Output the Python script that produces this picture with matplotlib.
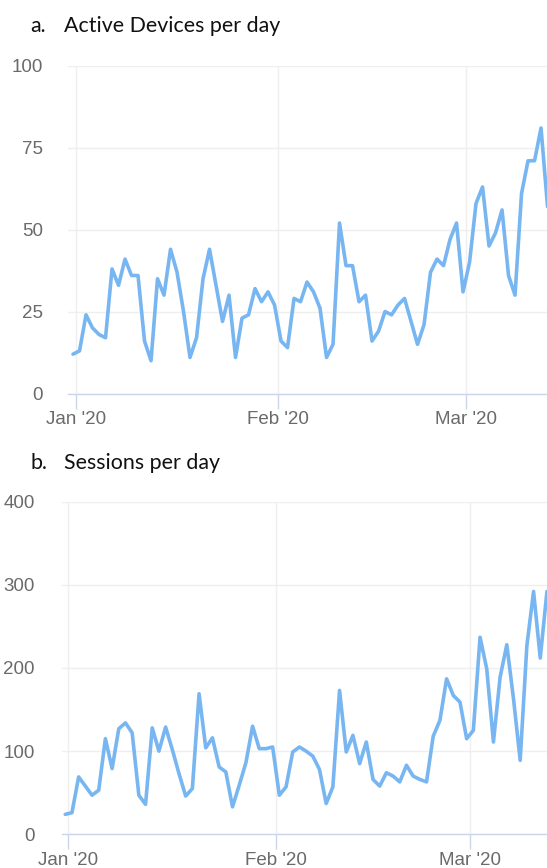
import matplotlib
matplotlib.use("Agg")
import matplotlib.pyplot as plt
import matplotlib.dates as mdates
import pandas as pd

# ---- data ----
start_date = "2020-01-01"
active_devices = [12, 13, 24, 20, 18, 17, 38, 33, 41, 36, 36, 16, 10, 35, 30, 44, 37, 25, 11, 17,
                  35, 44, 33, 22, 30, 11, 23, 24, 32, 28, 31, 27, 16, 14, 29, 28, 34, 31, 26, 11,
                  15, 52, 39, 39, 28, 30, 16, 19, 25, 24, 27, 29, 22, 15, 21, 37, 41, 39, 47, 52,
                  31, 40, 58, 63, 45, 49, 56, 36, 30, 61, 71, 71, 81, 57]
sessions = [24, 26, 69, 58, 47, 53, 115, 79, 127, 134, 122, 47, 36, 128, 100, 129, 102, 73, 46, 55,
            169, 104, 116, 81, 75, 33, 59, 86, 130, 103, 103, 105, 47, 57, 99, 105, 100, 94, 78, 37,
            57, 173, 99, 119, 85, 111, 66, 58, 74, 70, 63, 83, 70, 66, 63, 118, 137, 187, 167, 159,
            115, 125, 237, 199, 111, 189, 228, 163, 89, 227, 292, 212, 292]
titles = ["Active Devices per day", "Sessions per day"]
title_letters = ["a.", "b."]
yticks_a = [0, 25, 50, 75, 100]
yticks_b = [0, 100, 200, 300, 400]
tz_shift_hours = -11  # timestamps shown in local time

LINE = "#78b6f2"
AXIS = "#ccd6eb"
GRID = "#efefef"
LABEL = "#6a6a6a"

fig = plt.figure(figsize=(5.47, 8.68), dpi=100)
W, H = 547.0, 868.0

def make_axes(l_px, r_px, top_px, bot_px):
    return fig.add_axes([l_px / W, 1 - bot_px / H, (r_px - l_px) / W, (bot_px - top_px) / H])

ax_a = make_axes(68, 547, 65.7, 393.5)
ax_b = make_axes(61.7, 547, 501.7, 834.3)

t0 = pd.Timestamp(start_date)
shift = pd.Timedelta(hours=tz_shift_hours)

def style(ax, values, yticks, xl_days, xr_days, ypad):
    dates = pd.date_range(start_date, periods=len(values), freq="D") + shift
    ax.plot(dates, values, color=LINE, lw=2.6, solid_joinstyle="round", solid_capstyle="round",
            clip_on=True, zorder=3)
    ax.set_ylim(yticks[0], yticks[-1])
    ax.set_yticks(yticks)
    ax.set_xlim(t0 + pd.Timedelta(days=xl_days), t0 + pd.Timedelta(days=xr_days))
    ax.xaxis.set_major_locator(mdates.MonthLocator())
    ax.xaxis.set_major_formatter(mdates.DateFormatter("%b '%y"))
    for s in ["top", "right", "left"]:
        ax.spines[s].set_visible(False)
    ax.spines["bottom"].set_color(AXIS)
    ax.spines["bottom"].set_linewidth(1.0)
    ax.grid(True, axis="both", color=GRID, lw=1.0, zorder=0)
    ax.set_axisbelow(True)
    ax.tick_params(axis="x", length=10.8, width=1.0, color=AXIS, direction="out",
                   labelsize=13.5, labelcolor=LABEL, pad=2)
    ax.tick_params(axis="y", length=0, labelsize=13.5, labelcolor=LABEL, pad=ypad)
    for lab in ax.get_xticklabels() + ax.get_yticklabels():
        lab.set_fontfamily("Liberation Sans")

style(ax_a, active_devices, yticks_a, -1.23, 72.46, 18)
style(ax_b, sessions, yticks_b, -0.99, 71.55, 19.5)

title_font = dict(fontfamily="Lato", fontsize=15.4, color="#111111", va="baseline")
fig.text(30 / W, 1 - 31.5 / H, title_letters[0], **title_font)
fig.text(64 / W, 1 - 31.5 / H, titles[0], **title_font)
fig.text(30 / W, 1 - 469 / H, title_letters[1], **title_font)
fig.text(64 / W, 1 - 469 / H, titles[1], **title_font)

fig.savefig("out.png", dpi=100)
